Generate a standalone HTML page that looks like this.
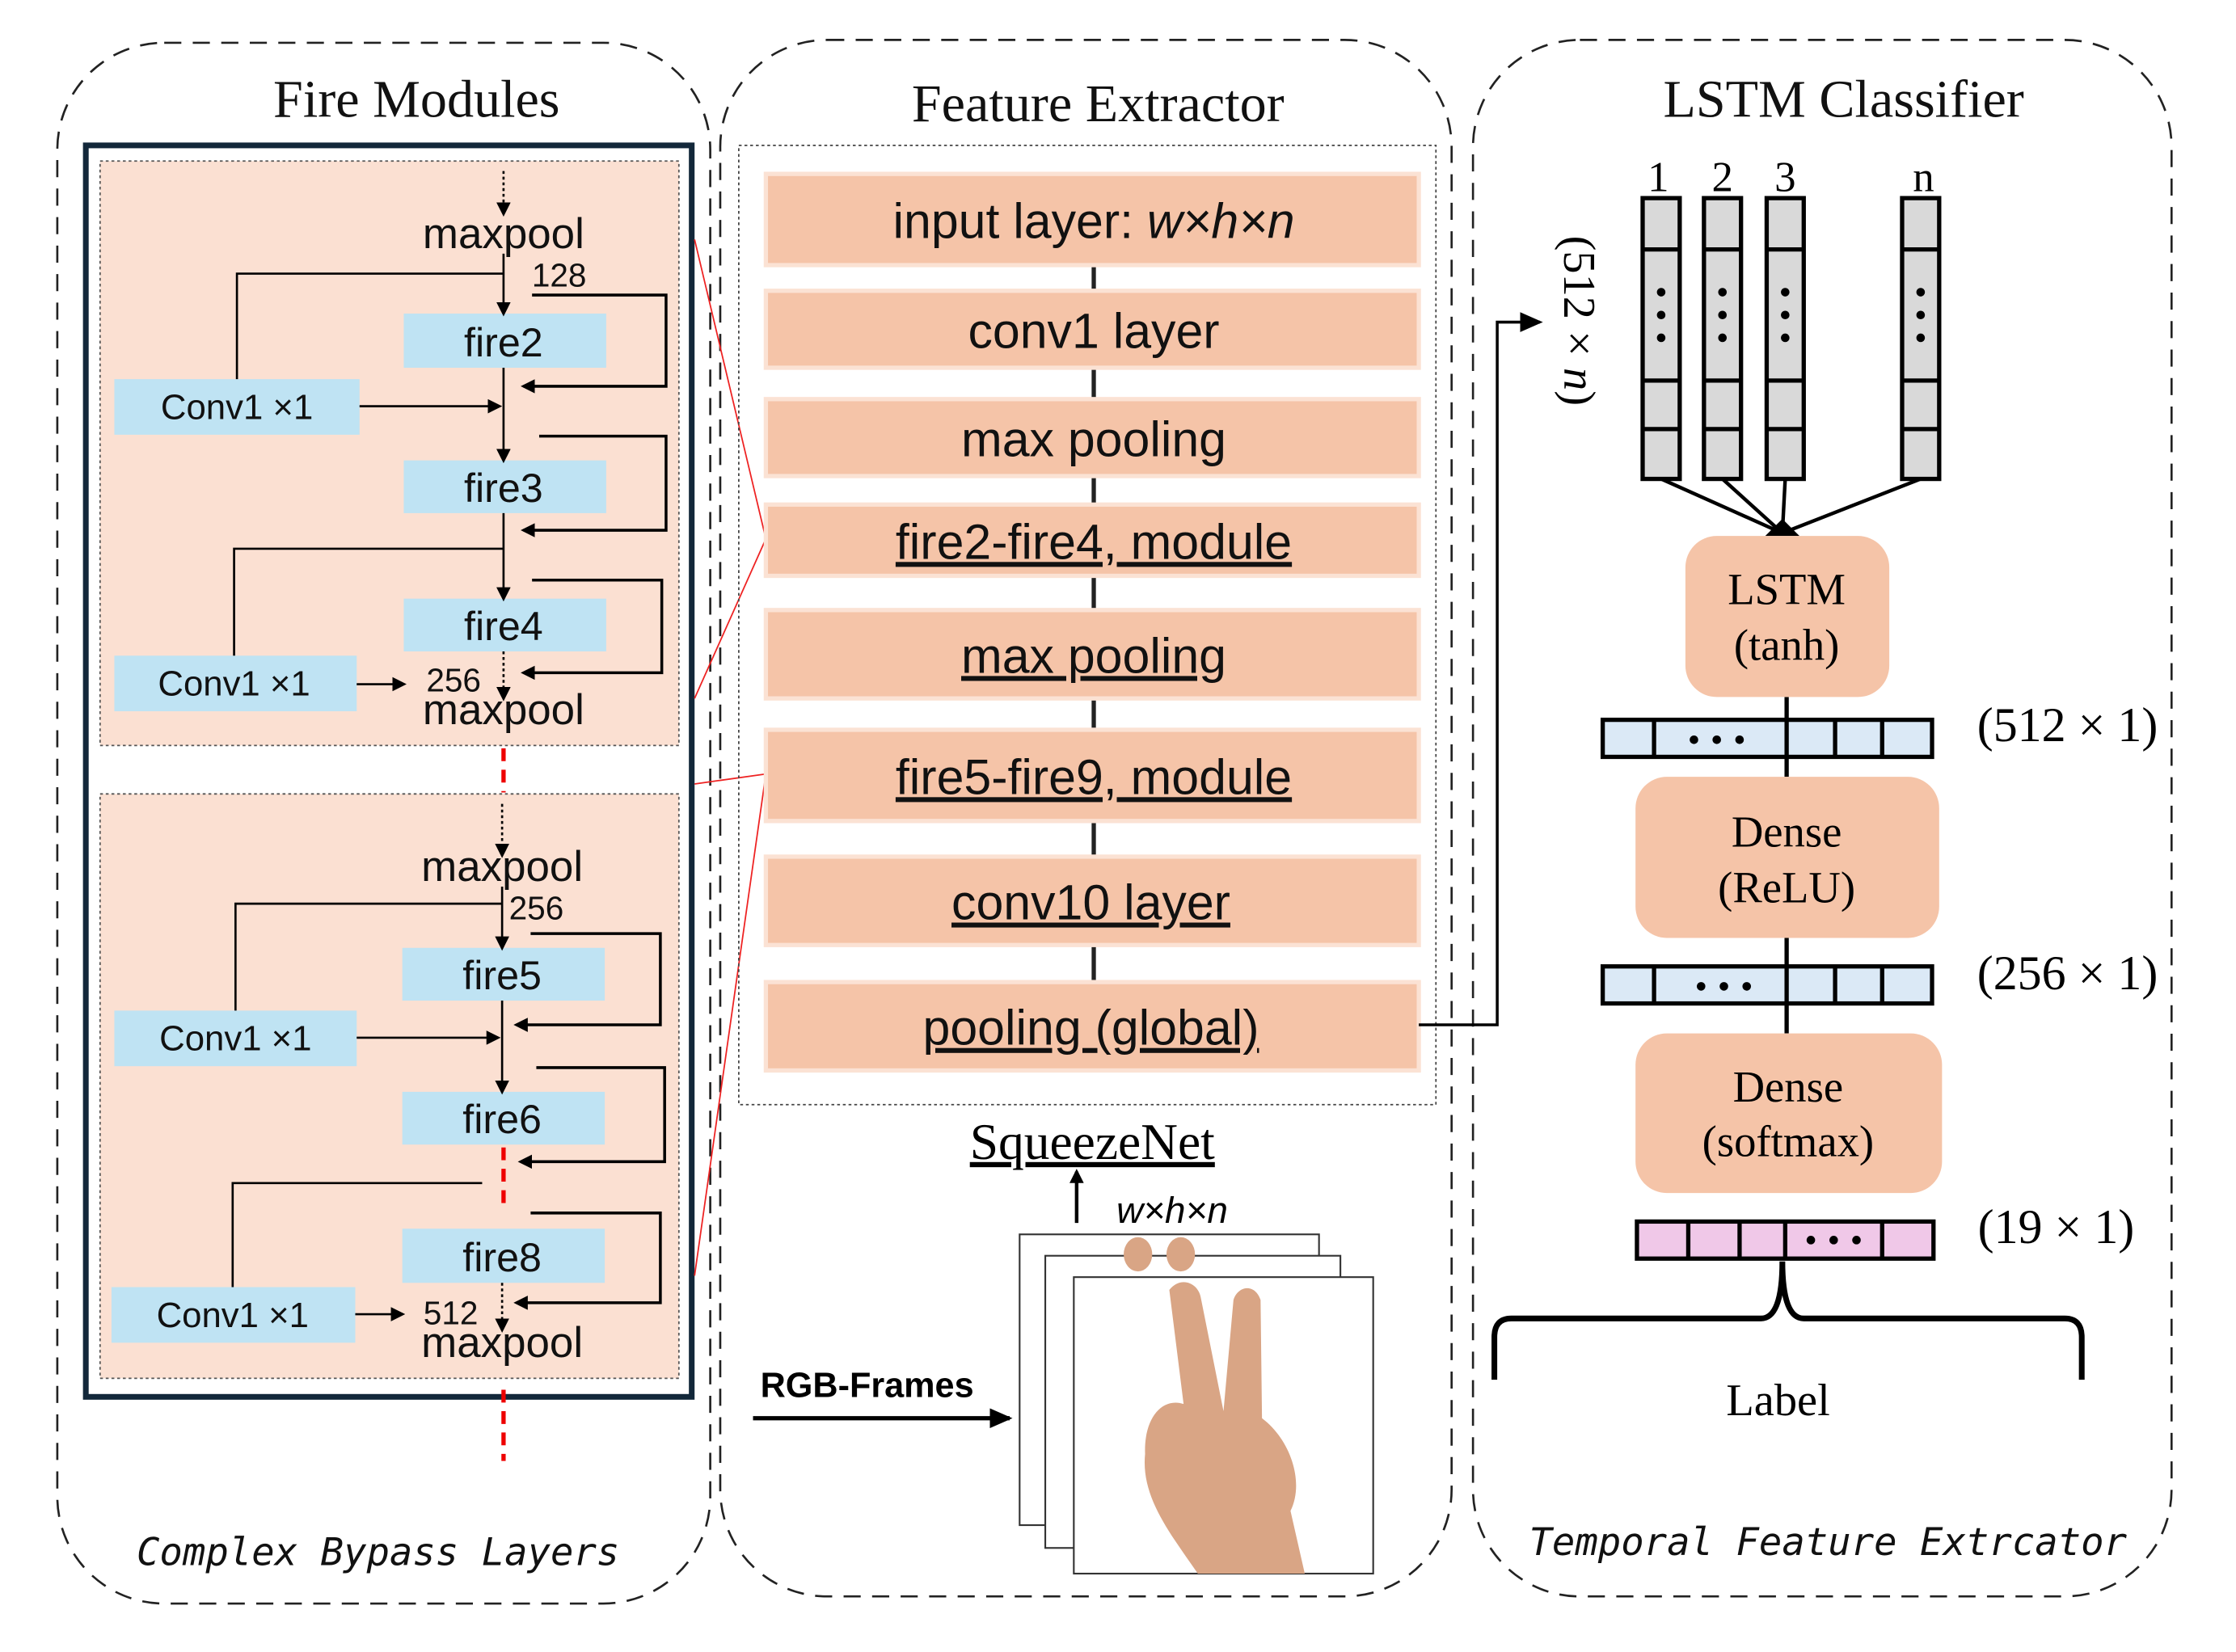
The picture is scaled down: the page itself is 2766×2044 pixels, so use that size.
<!DOCTYPE html>
<html><head><meta charset="utf-8"><style>
html,body{margin:0;padding:0;background:#fff}
svg{display:block}
.s{font-family:"Liberation Sans",sans-serif}
.r{font-family:"Liberation Serif",serif}
</style></head><body>
<svg width="2766" height="2044" viewBox="0 0 1568 1159" xmlns="http://www.w3.org/2000/svg">
<defs>
<marker id="a" markerWidth="10" markerHeight="10" refX="8" refY="5" orient="auto" markerUnits="userSpaceOnUse"><path d="M0,0 L10,5 L0,10 z" fill="#000"/></marker>
<marker id="b" markerWidth="16" markerHeight="14" refX="14" refY="7" orient="auto" markerUnits="userSpaceOnUse"><path d="M0,0 L16,7 L0,14 z" fill="#000"/></marker>
</defs>
<g fill="none" stroke="#222" stroke-width="1.5" stroke-dasharray="12,8">
<rect x="40" y="30" width="458" height="1095" rx="75"/>
<rect x="505" y="28" width="513" height="1092" rx="75"/>
<rect x="1033" y="28" width="490" height="1092" rx="75"/>
</g>
<g class="r" font-size="37.5" text-anchor="middle" fill="#111">
<text x="292" y="82">Fire Modules</text>
<text x="770" y="85">Feature Extractor</text>
<text x="1293" y="82">LSTM Classifier</text>
</g>
<!-- left -->
<rect x="60" y="102" width="425" height="878" fill="#fff" stroke="#13283a" stroke-width="4"/>
<rect x="70" y="113" width="406" height="410" fill="#fbe0d2" stroke="#555" stroke-dasharray="2,2"/>
<rect x="70" y="557" width="406" height="410" fill="#fbe0d2" stroke="#555" stroke-dasharray="2,2"/>
<g fill="#bfe3f3">
<rect x="283" y="220" width="142" height="38"/><rect x="80" y="266" width="172" height="39"/>
<rect x="283" y="323" width="142" height="37"/><rect x="283" y="420" width="142" height="37"/>
<rect x="80" y="460" width="170" height="39"/>
<rect x="282" y="665" width="142" height="37"/><rect x="80" y="709" width="170" height="39"/>
<rect x="282" y="766" width="142" height="37"/><rect x="282" y="862" width="142" height="38"/>
<rect x="78" y="903" width="171" height="39"/>
</g>
<g class="s" font-size="28.5" text-anchor="middle" fill="#111">
<text x="353" y="250">fire2</text><text x="353" y="352">fire3</text><text x="353" y="449">fire4</text>
<text x="352" y="694">fire5</text><text x="352" y="795">fire6</text><text x="352" y="892">fire8</text>
<text x="166" y="294" font-size="24.8">Conv1 ×1</text><text x="164" y="488" font-size="24.8">Conv1 ×1</text>
<text x="165" y="737" font-size="24.8">Conv1 ×1</text><text x="163" y="931" font-size="24.8">Conv1 ×1</text>
<text x="353" y="174" font-size="30">maxpool</text><text x="353" y="508" font-size="30">maxpool</text>
<text x="352" y="618" font-size="30">maxpool</text><text x="352" y="952" font-size="30">maxpool</text>
<text x="392" y="201" font-size="23">128</text><text x="318" y="485" font-size="23">256</text>
<text x="376" y="645" font-size="23">256</text><text x="316" y="929" font-size="23">512</text>
</g>
<g stroke="#000" stroke-width="1.5" fill="none">
<path d="M353,120 V150" stroke-dasharray="2,2" marker-end="url(#a)"/>
<path d="M353,178 V220" marker-end="url(#a)"/>
<path d="M166,266 V192 H353"/>
<path d="M252,285 H350" marker-end="url(#a)"/>
<path d="M353,258 V323" marker-end="url(#a)"/>
<path d="M353,360 V420" marker-end="url(#a)"/>
<path d="M164,460 V385 H353"/>
<path d="M250,480 H283" marker-end="url(#a)"/>
<path d="M353,457 V490" stroke-dasharray="2,2" marker-end="url(#a)"/>
<path d="M352,564 V600" stroke-dasharray="2,2" marker-end="url(#a)"/>
<path d="M352,622 V665" marker-end="url(#a)"/>
<path d="M165,709 V634 H352"/>
<path d="M250,728 H349" marker-end="url(#a)"/>
<path d="M352,702 V766" marker-end="url(#a)"/>
<path d="M163,903 V830 H338"/>
<path d="M249,922 H282" marker-end="url(#a)"/>
<path d="M352,900 V933" stroke-dasharray="2,2" marker-end="url(#a)"/>
</g>
<g stroke="#000" stroke-width="2" fill="none">
<path d="M373,207 H467 V271 H367" marker-end="url(#a)"/>
<path d="M378,306 H467 V372 H367" marker-end="url(#a)"/>
<path d="M373,407 H464 V472 H367" marker-end="url(#a)"/>
<path d="M372,655 H463 V719 H362" marker-end="url(#a)"/>
<path d="M376,749 H466 V815 H365" marker-end="url(#a)"/>
<path d="M372,851 H463 V914 H362" marker-end="url(#a)"/>
</g>
<g stroke="#e00" stroke-width="3" stroke-dasharray="9,6">
<path d="M353,525 V556"/><path d="M353,805 V850"/><path d="M353,975 V1025"/>
</g>
<g stroke="#e22" stroke-width="1" fill="none">
<path d="M487,168 L537,378 L487,490"/><path d="M487,550 L537,543 L487,895"/>
</g>
<!-- middle -->
<rect x="518" y="102" width="489" height="673" fill="none" stroke="#444" stroke-dasharray="2,2"/>
<g stroke="#222" stroke-width="3">
<path d="M767,186 V690"/>
</g>
<g fill="#f5c4a8" stroke="#fbe2d4" stroke-width="3">
<rect x="537" y="122" width="458" height="64"/><rect x="537" y="204" width="458" height="54"/>
<rect x="537" y="280" width="458" height="54"/><rect x="537" y="354" width="458" height="50"/>
<rect x="537" y="428" width="458" height="62"/><rect x="537" y="512" width="458" height="64"/>
<rect x="537" y="601" width="458" height="62"/><rect x="537" y="689" width="458" height="62"/>
</g>
<g class="s" font-size="34.5" text-anchor="middle" fill="#111">
<text x="767" y="167">input layer: <tspan font-style="italic">w×h×n</tspan></text>
<text x="767" y="244">conv1 layer</text>
<text x="767" y="320">max pooling</text>
<text x="767" y="392" text-decoration="underline">fire2-fire4, module</text>
<text x="767" y="472" text-decoration="underline">max pooling</text>
<text x="767" y="557" text-decoration="underline">fire5-fire9, module</text>
<text x="765" y="645" text-decoration="underline">conv10 layer</text>
<text x="765" y="733" text-decoration="underline">pooling (global)</text>
</g>
<text x="766" y="813" class="r" font-size="36" text-anchor="middle" text-decoration="underline">SqueezeNet</text>
<path d="M755,858 V822" stroke="#000" stroke-width="2.5" marker-end="url(#a)"/>
<text x="822" y="858" class="s" font-size="26" font-style="italic" text-anchor="middle">w×h×n</text>
<g fill="#fff" stroke="#333" stroke-width="1.2">
<rect x="715" y="866" width="210" height="204"/><rect x="733" y="881" width="207" height="205"/><rect x="753" y="896" width="210" height="208"/>
</g>
<g fill="#d9a585">
<ellipse cx="798" cy="880" rx="10" ry="12"/><ellipse cx="828" cy="880" rx="10" ry="12"/>
<path d="M820,905 C828,895 840,900 842,910 L858,990 L865,912 C868,902 880,900 884,912 L885,995 C905,1010 915,1040 905,1060 L915,1104 L840,1104 C820,1075 800,1050 803,1020 C802,995 815,980 830,985 Z"/>
</g>
<text x="608" y="980" class="s" font-size="24.5" font-weight="bold" text-anchor="middle">RGB-Frames</text>
<path d="M528,995 H708" stroke="#000" stroke-width="3" marker-end="url(#b)"/>
<path d="M995,719 H1050 V226 H1080" stroke="#000" stroke-width="2" fill="none" marker-end="url(#b)"/>
<!-- right -->
<g fill="#d9d9d9" stroke="#000" stroke-width="3">
<rect x="1152" y="139" width="26" height="197"/><rect x="1195" y="139" width="26" height="197"/>
<rect x="1239" y="139" width="26" height="197"/><rect x="1334" y="139" width="26" height="197"/>
</g>
<g stroke="#000" stroke-width="3">
<path d="M1152,175H1178M1195,175H1221M1239,175H1265M1334,175H1360M1152,267H1178M1195,267H1221M1239,267H1265M1334,267H1360M1152,301H1178M1195,301H1221M1239,301H1265M1334,301H1360"/>
</g>
<g fill="#000">
<circle cx="1165" cy="205" r="3"/><circle cx="1165" cy="221" r="3"/><circle cx="1165" cy="237" r="3"/>
<circle cx="1208" cy="205" r="3"/><circle cx="1208" cy="221" r="3"/><circle cx="1208" cy="237" r="3"/>
<circle cx="1252" cy="205" r="3"/><circle cx="1252" cy="221" r="3"/><circle cx="1252" cy="237" r="3"/>
<circle cx="1347" cy="205" r="3"/><circle cx="1347" cy="221" r="3"/><circle cx="1347" cy="237" r="3"/>
</g>
<g class="r" font-size="30" text-anchor="middle"><text x="1163" y="134">1</text><text x="1208" y="134">2</text><text x="1252" y="134">3</text><text x="1349" y="134">n</text></g>
<text transform="translate(1097,225) rotate(90)" class="r" font-size="32" text-anchor="middle">(512 × <tspan font-style="italic">n</tspan>)</text>
<g stroke="#000" stroke-width="2.5"><path d="M1165,336 L1250,374 M1208,336 L1250,374 M1252,336 L1250,374 M1347,336 L1250,374"/></g>
<path d="M1238,376 L1250,364 L1262,376Z" fill="#000"/>
<path d="M1253,489 V545 M1253,658 V725" stroke="#000" stroke-width="3"/>
<g fill="#f5c4a8">
<rect x="1182" y="376" width="143" height="113" rx="22"/><rect x="1147" y="545" width="213" height="113" rx="22"/><rect x="1147" y="725" width="215" height="112" rx="22"/>
</g>
<g class="r" font-size="31" text-anchor="middle">
<text x="1253" y="424">LSTM</text><text x="1253" y="463">(tanh)</text>
<text x="1253" y="594">Dense</text><text x="1253" y="633">(ReLU)</text>
<text x="1254" y="773">Dense</text><text x="1254" y="811">(softmax)</text>
<text x="1450" y="520" font-size="34">(512 × 1)</text><text x="1450" y="694" font-size="34">(256 × 1)</text><text x="1442" y="872" font-size="34">(19 × 1)</text>
<text x="1247" y="993" font-size="32">Label</text>
</g>
<g stroke="#000" stroke-width="3">
<rect x="1124" y="505" width="231" height="26" fill="#dbe9f6"/><rect x="1124" y="678" width="231" height="26" fill="#dbe9f6"/>
<rect x="1148" y="857" width="208" height="26" fill="#f0c8e8"/>
<path d="M1160,505V531M1253,505V531M1287,505V531M1320,505V531M1160,678V704M1253,678V704M1287,678V704M1320,678V704M1184,857V883M1220,857V883M1252,857V883M1320,857V883"/>
</g>
<g fill="#000">
<circle cx="1188" cy="519" r="3"/><circle cx="1204" cy="519" r="3"/><circle cx="1220" cy="519" r="3"/>
<circle cx="1193" cy="692" r="3"/><circle cx="1209" cy="692" r="3"/><circle cx="1225" cy="692" r="3"/>
<circle cx="1270" cy="870" r="3"/><circle cx="1286" cy="870" r="3"/><circle cx="1302" cy="870" r="3"/>
</g>
<path d="M1048,968 V938 Q1048,925 1060,925 H1235 Q1250,925 1250,885 Q1250,925 1265,925 H1448 Q1460,925 1460,938 V968" fill="none" stroke="#000" stroke-width="4"/>
<g font-family="'DejaVu Sans Mono','Liberation Mono',monospace" font-style="italic" font-size="26.8" text-anchor="middle" fill="#111">
<text x="265" y="1098">Complex Bypass Layers</text>
<text x="1282" y="1091">Temporal Feature Extrcator</text>
</g>
</svg>
</body></html>
